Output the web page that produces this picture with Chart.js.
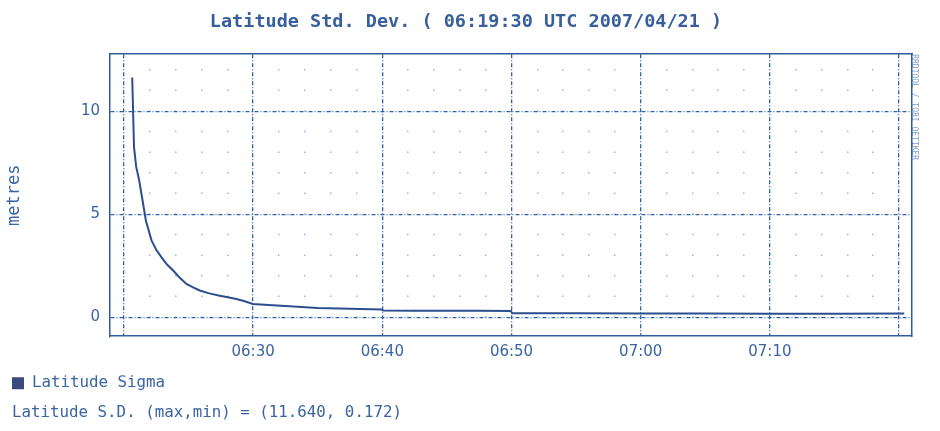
<!DOCTYPE html>
<html>
<head>
<meta charset="utf-8">
<title>Latitude Std. Dev.</title>
<script src="https://cdn.jsdelivr.net/npm/chart.js@4.4.1/dist/chart.umd.min.js"></script>
<style>
    body { margin: 0; background: #ffffff; }
    #wrap { width: 940px; height: 431px; }
</style>
</head>
<body>
<div id="wrap"><canvas id="sigmaChart" width="940" height="431"></canvas></div>
<script>
'use strict';

// minutes after 06:00 UTC
const sampleMinutes = [20.64, 20.78, 20.95, 21.18, 21.44, 21.70, 22.14, 22.50, 22.91, 23.35, 23.81, 24.30, 24.84,
    25.35, 25.87, 26.60, 27.41, 28.05, 28.70, 29.35, 29.98, 31.20, 32.50, 35.00, 37.50, 39.95, 40.05, 42.50,
    45.00, 47.50, 49.95, 50.05, 55.00, 60.00, 65.00, 70.00, 75.00, 80.40];
const sigmaValues = [11.64, 8.25, 7.30, 6.64, 5.67, 4.69, 3.72, 3.28, 2.91, 2.55, 2.27, 1.93, 1.62,
    1.45, 1.30, 1.16, 1.05, 0.97, 0.89, 0.78, 0.65, 0.60, 0.55, 0.45, 0.41, 0.38, 0.33, 0.32,
    0.32, 0.32, 0.31, 0.20, 0.19, 0.18, 0.18, 0.17, 0.17, 0.18];

const timeTicks = [20, 30, 40, 50, 60, 70, 80];
const timeLabels = ['', '06:30', '06:40', '06:50', '07:00', '07:10', ''];
const minorTimeTicks = [22, 24, 26, 28, 32, 34, 36, 38, 42, 44, 46, 48, 52, 54, 56, 58, 62, 64, 66, 68, 72, 74, 76, 78];
const valueTicks = [0, 5, 10];

const xMin = 18.92, xMax = 81.0;
const yMin = -0.92, yMax = 12.77;

const textBlue = '#3a64a2';
const gridBlue = '#2f62aa';
const frameBlue = '#2f5c9c';

function setTicks(values) {
    return function (scale) {
        scale.ticks = values.map(function (v) { return {value: v}; });
    };
}

function loadSigmaChart() {
    const points = sampleMinutes.map(function (t, i) { return {x: t, y: sigmaValues[i]}; });

    new Chart('sigmaChart', {
        type: 'line',
        data: {
            datasets: [{
                label: 'Latitude Sigma',
                data: points,
                borderColor: '#2b4f8e',
                backgroundColor: '#3b4a7e',
                borderWidth: 2,
                pointRadius: 0,
                tension: 0,
                fill: false
            }]
        },
        options: {
            responsive: false,
            animation: false,
            layout: {padding: {left: 12, right: 20, top: 0, bottom: 9}},
            plugins: {
                title: {
                    display: true,
                    text: 'Latitude Std. Dev. ( 06:19:30 UTC 2007/04/21 )',
                    color: '#365f9c',
                    font: {family: 'DejaVu Sans Mono', size: 18.5, weight: 'bold'},
                    padding: {top: 11, bottom: 21}
                },
                subtitle: {
                    display: true,
                    position: 'bottom',
                    align: 'start',
                    text: 'Latitude S.D. (max,min) = (11.640, 0.172)',
                    color: textBlue,
                    font: {family: 'DejaVu Sans Mono', size: 15.8},
                    padding: {top: 2, bottom: 0}
                },
                legend: {
                    position: 'bottom',
                    align: 'start',
                    labels: {
                        color: textBlue,
                        font: {family: 'DejaVu Sans Mono', size: 15.8},
                        boxWidth: 12,
                        boxHeight: 12,
                        padding: 0,
                        generateLabels: function (chart) {
                            return [{
                                text: 'Latitude Sigma',
                                fillStyle: '#3b4a7e',
                                strokeStyle: '#3b4a7e',
                                lineWidth: 0,
                                fontColor: textBlue,
                                datasetIndex: 0
                            }];
                        }
                    }
                },
                tooltip: {enabled: false}
            },
            scales: {
                x: {
                    type: 'linear',
                    position: 'bottom',
                    min: xMin,
                    max: xMax,
                    afterBuildTicks: setTicks(timeTicks),
                    afterFit: function (scale) { scale.height = 39; },
                    ticks: {
                        autoSkip: false,
                        maxRotation: 0,
                        padding: 7,
                        color: textBlue,
                        font: {family: 'DejaVu Sans', size: 15},
                        callback: function (value, index) { return timeLabels[index]; }
                    },
                    grid: {color: gridBlue, lineWidth: 1.3, drawTicks: false},
                    border: {color: frameBlue, width: 1.5, dash: [4, 2, 1, 2]}
                },
                xMinor: {
                    type: 'linear',
                    position: 'bottom',
                    min: xMin,
                    max: xMax,
                    afterBuildTicks: setTicks(minorTimeTicks),
                    afterFit: function (scale) { scale.height = 0; },
                    ticks: {display: false},
                    grid: {color: '#9db7de', lineWidth: 1.5, drawTicks: false},
                    border: {display: false, dash: [1.5, 19.1], dashOffset: 5.8}
                },
                xTop: {
                    type: 'linear',
                    position: 'top',
                    min: xMin,
                    max: xMax,
                    afterFit: function (scale) { scale.height = 0; },
                    ticks: {display: false},
                    grid: {drawOnChartArea: false, drawTicks: false},
                    border: {color: frameBlue, width: 1.5}
                },
                y: {
                    type: 'linear',
                    position: 'left',
                    min: yMin,
                    max: yMax,
                    afterBuildTicks: setTicks(valueTicks),
                    afterFit: function (scale) { scale.width = 98; },
                    ticks: {
                        padding: 10,
                        color: textBlue,
                        font: {family: 'DejaVu Sans', size: 15}
                    },
                    grid: {color: gridBlue, lineWidth: 1.3, drawTicks: false},
                    border: {color: frameBlue, width: 1.5, dash: [4, 2, 1, 2]},
                    title: {
                        display: true,
                        text: 'metres',
                        color: textBlue,
                        font: {family: 'DejaVu Sans Mono', size: 17},
                        padding: {top: -8, bottom: 0}
                    }
                },
                yRight: {
                    type: 'linear',
                    position: 'right',
                    min: yMin,
                    max: yMax,
                    afterFit: function (scale) { scale.width = 8; },
                    ticks: {display: false},
                    grid: {drawOnChartArea: false, drawTicks: false},
                    border: {color: frameBlue, width: 1.5},
                    title: {
                        display: true,
                        text: 'RRDTOOL / TOBI OETIKER',
                        align: 'end',
                        color: '#7d9dcc',
                        font: {family: 'DejaVu Sans Mono', size: 8},
                        padding: {top: 1, bottom: 0}
                    }
                }
            }
        }
    });
}

loadSigmaChart();
</script>
</body>
</html>
